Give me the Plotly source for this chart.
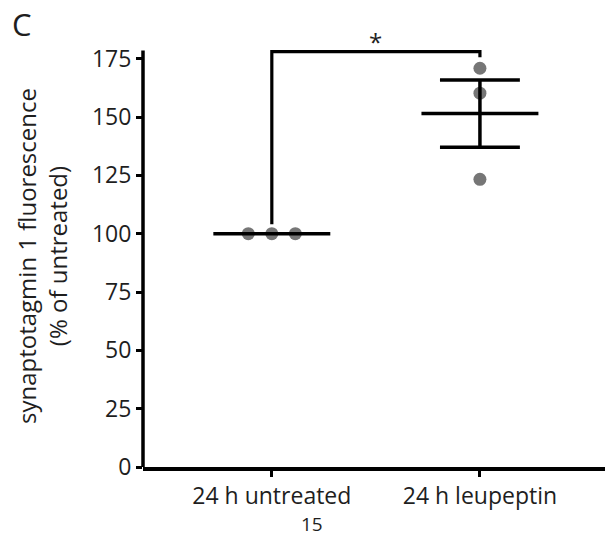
import plotly.graph_objects as go
import numpy as np

categories = ["24 h untreated", "24 h leupeptin"]
untreated = [100, 100, 100]
leupeptin = [170.9, 160.2, 123.3]
y_ticks = [0, 25, 50, 75, 100, 125, 150, 175]

W, H = 605, 539
L, R, T, B = 143, 0, 33, 72
PW, PH = W - L - R, H - T - B
YMAX = 186
jitter = [-0.113, 0, 0.113]
mean_hw = 0.281
sem_hw = 0.192
dot_color = "rgb(118,118,118)"
font_fam = "Open Sans, Lato, sans-serif"
txt = "#1e1e1e"


def px(xp):
    return (xp - L) / PW


def py(yp):
    return (H - B - yp) / PH


fig = go.Figure()

groups = [untreated, leupeptin]
for i, vals in enumerate(groups):
    xs = [i + (jitter[k] if i == 0 else 0) for k in range(len(vals))]
    fig.add_trace(go.Scatter(x=xs, y=vals, mode="markers",
                             marker=dict(size=13, color=dot_color, line=dict(width=0)),
                             showlegend=False, hoverinfo="skip"))

for i, vals in enumerate(groups):
    m = float(np.mean(vals))
    s = float(np.std(vals, ddof=1) / np.sqrt(len(vals)))
    fig.add_trace(go.Scatter(x=[i - mean_hw, i + mean_hw], y=[m, m], mode="lines",
                             line=dict(color="black", width=3.5), showlegend=False, hoverinfo="skip"))
    if s > 0:
        for yv in (m - s, m + s):
            fig.add_trace(go.Scatter(x=[i - sem_hw, i + sem_hw], y=[yv, yv], mode="lines",
                                     line=dict(color="black", width=3.5), showlegend=False, hoverinfo="skip"))
        fig.add_trace(go.Scatter(x=[i, i], y=[m - s, m + s], mode="lines",
                                 line=dict(color="black", width=3.5), showlegend=False, hoverinfo="skip"))

# significance bracket
fig.add_trace(go.Scatter(x=[0, 0, 1, 1], y=[104, 178, 178, 175.6], mode="lines",
                         line=dict(color="black", width=3.2), showlegend=False, hoverinfo="skip"))
fig.add_annotation(x=0.5, y=182.5, xref="x", yref="y", text="*", showarrow=False,
                   font=dict(size=24, color=txt, family=font_fam), yanchor="middle")

# y axis line (stops at top of scale)
fig.add_shape(type="line", xref="paper", yref="y", x0=0, x1=0, y0=0, y1=178.5,
              line=dict(color="black", width=3.5))

fig.add_annotation(x=px(22), y=py(24), xref="paper", yref="paper", text="C",
                   showarrow=False, font=dict(size=31, color=txt, family=font_fam),
                   xanchor="center", yanchor="middle")
fig.add_annotation(x=px(312), y=py(524), xref="paper", yref="paper", text="15",
                   showarrow=False, font=dict(size=19, color=txt, family=font_fam),
                   xanchor="center", yanchor="middle")
fig.add_annotation(x=px(42), y=py(256), xref="paper", yref="paper",
                   text="synaptotagmin 1 fluorescence<br>(% of untreated)", textangle=-90,
                   showarrow=False, font=dict(size=24, color=txt, family=font_fam),
                   xanchor="center", yanchor="middle")

fig.update_layout(
    width=W, height=H,
    margin=dict(l=L, r=R, t=T, b=B, pad=0),
    plot_bgcolor="white", paper_bgcolor="white",
    font=dict(family=font_fam, color=txt, size=24),
    xaxis=dict(range=[-0.619, 1.601], tickmode="array", tickvals=[0, 1], ticktext=categories,
               showline=True, linecolor="black", linewidth=3.5, ticks="outside",
               ticklen=6, tickwidth=3, tickcolor="black", showgrid=False, zeroline=False,
               tickfont=dict(size=23, color=txt)),
    yaxis=dict(range=[0, YMAX], tickmode="array", tickvals=y_ticks,
               showline=False, ticks="outside", ticklen=6, tickwidth=3, tickcolor="black",
               showgrid=False, zeroline=False, tickfont=dict(size=23, color=txt)),
)

fig.write_html("out.html")
